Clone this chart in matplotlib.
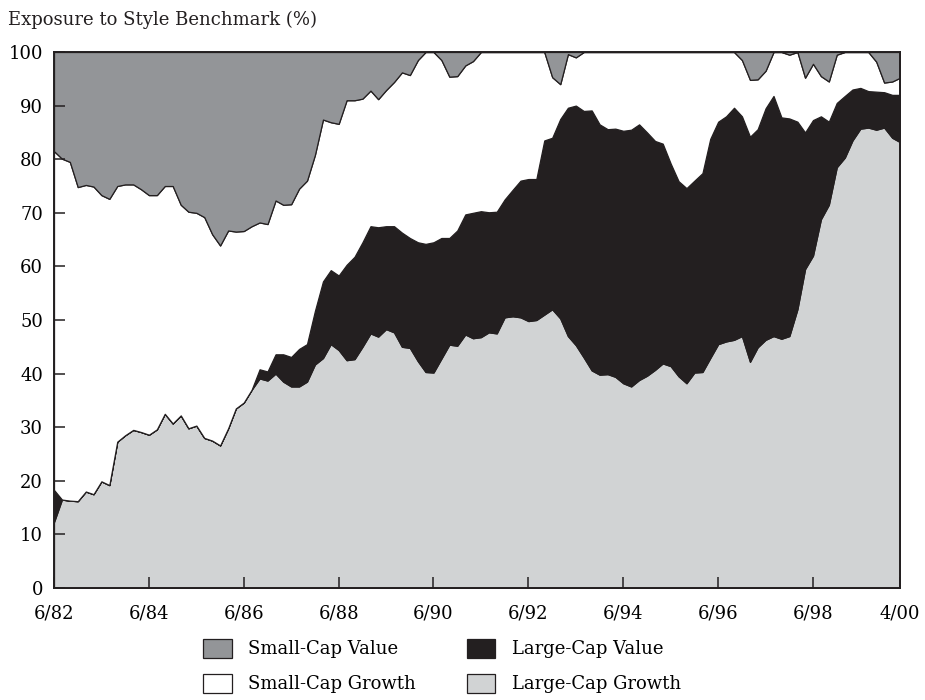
import numpy as np
import pandas as pd
import matplotlib
matplotlib.use("Agg")
import matplotlib.pyplot as plt
from matplotlib.patches import Patch

plt.rcParams['font.family'] = ['DejaVu Serif']

# Bi-monthly observations, 6/82 .. 4/00
dates = pd.date_range('1982-06-01', '2000-04-01', freq='2MS')

large_cap_growth = [
    12.3, 16.5, 16.3, 16.2, 18.0, 17.5, 19.9, 19.2, 27.3, 28.5,
    29.5, 29.1, 28.6, 29.6, 32.5, 30.7, 32.2, 29.8, 30.3, 28.0,
    27.5, 26.6, 29.8, 33.5, 34.6, 37.0, 39.1, 38.7, 40.0, 38.5,
    37.6, 37.6, 38.5, 41.7, 42.9, 45.5, 44.4, 42.5, 42.7, 45.0,
    47.5, 46.9, 48.3, 47.7, 45.0, 44.8, 42.3, 40.3, 40.2, 42.8,
    45.4, 45.2, 47.3, 46.6, 46.8, 47.7, 47.5, 50.5, 50.7, 50.5,
    49.8, 50.0, 51.0, 52.0, 50.3, 47.0, 45.3, 43.0, 40.6, 39.8,
    39.9, 39.4, 38.2, 37.6, 38.8, 39.6, 40.7, 41.9, 41.4, 39.5,
    38.2, 40.2, 40.3, 42.9, 45.5, 46.0, 46.3, 47.0, 42.2, 44.9,
    46.3, 47.0, 46.5, 47.0, 52.0, 59.5, 62.0, 68.8, 71.5, 78.5,
    80.3, 83.5, 85.7, 85.9, 85.5, 85.9, 84.0, 83.2]

large_cap_value = [
    6.0, 0, 0, 0, 0, 0, 0, 0, 0, 0,
    0, 0, 0, 0, 0, 0, 0, 0, 0, 0,
    0, 0, 0, 0, 0, 0, 1.7, 1.7, 3.6, 5.1,
    5.5, 7.0, 7.0, 10.0, 14.3, 13.8, 13.9, 17.8, 19.1, 19.5,
    20.0, 20.4, 19.2, 19.8, 21.3, 20.5, 22.2, 23.9, 24.3, 22.5,
    19.9, 21.5, 22.4, 23.4, 23.5, 22.4, 22.7, 22.0, 23.6, 25.5,
    26.5, 26.3, 32.5, 32.0, 37.2, 42.6, 44.7, 46.0, 48.5, 46.7,
    45.7, 46.3, 47.1, 47.9, 47.7, 45.4, 42.7, 41.0, 37.8, 36.4,
    36.4, 35.8, 37.1, 40.9, 41.5, 42.0, 43.3, 41.0, 42.0, 40.7,
    43.2, 44.8, 41.3, 40.6, 35.0, 25.5, 25.3, 19.2, 15.5, 12.0,
    11.5, 9.5, 7.6, 6.8, 7.1, 6.6, 8.0, 8.8]

small_cap_growth = [
    63.2, 63.6, 63.2, 58.6, 57.2, 57.4, 53.4, 53.4, 47.7, 46.8,
    45.8, 45.3, 44.7, 43.7, 42.5, 44.3, 39.3, 40.4, 39.7, 41.2,
    38.5, 37.3, 36.9, 33.0, 32.0, 30.5, 27.4, 27.5, 28.7, 27.9,
    28.5, 29.9, 30.5, 29.1, 30.2, 27.6, 28.3, 30.7, 29.2, 26.8,
    25.3, 23.9, 25.4, 26.9, 29.9, 30.4, 34.0, 35.8, 35.5, 33.2,
    30.1, 28.8, 27.8, 28.3, 29.7, 29.9, 29.8, 27.5, 25.7, 24.0,
    23.7, 23.7, 16.5, 11.3, 6.5, 10.0, 9.0, 11.0, 10.9, 13.5,
    14.4, 14.3, 14.7, 14.5, 13.5, 15.0, 16.6, 17.1, 20.8, 24.1,
    25.4, 24.0, 22.6, 16.2, 13.0, 12.0, 10.4, 10.5, 10.6, 9.3,
    7.0, 8.2, 12.2, 11.9, 13.0, 10.2, 10.5, 7.5, 7.5, 9.0,
    8.2, 7.0, 6.7, 7.3, 5.6, 1.8, 2.5, 3.2]

small_cap_value = [
    18.5, 19.9, 20.5, 25.2, 24.8, 25.1, 26.7, 27.4, 25.0, 24.7,
    24.7, 25.6, 26.7, 26.7, 25.0, 25.0, 28.5, 29.8, 30.0, 30.8,
    34.0, 36.1, 33.3, 33.5, 33.4, 32.5, 31.8, 32.1, 27.7, 28.5,
    28.4, 25.5, 24.0, 19.2, 12.6, 13.1, 13.4, 9.0, 9.0, 8.7,
    7.2, 8.8, 7.1, 5.6, 3.8, 4.3, 1.5, 0, 0, 1.5,
    4.6, 4.5, 2.5, 1.7, 0, 0, 0, 0, 0, 0,
    0, 0, 0, 4.7, 6.0, 0.4, 1.0, 0, 0, 0,
    0, 0, 0, 0, 0, 0, 0, 0, 0, 0,
    0, 0, 0, 0, 0, 0, 0, 1.5, 5.2, 5.1,
    3.5, 0, 0, 0.5, 0, 4.8, 2.2, 4.5, 5.5, 0.5,
    0, 0, 0, 0, 1.8, 5.7, 5.5, 4.8]

series_names = ['Large-Cap Growth', 'Large-Cap Value', 'Small-Cap Growth', 'Small-Cap Value']
series_colors = ['#d1d3d4', '#231f20', '#ffffff', '#939598']

tick_dates = pd.to_datetime(['1982-06-01', '1984-06-01', '1986-06-01', '1988-06-01',
                             '1990-06-01', '1992-06-01', '1994-06-01', '1996-06-01',
                             '1998-06-01', '2000-04-01'])
tick_labels = ['6/82', '6/84', '6/86', '6/88', '6/90', '6/92', '6/94', '6/96', '6/98', '4/00']

fig = plt.figure(figsize=(9.25, 7.0), dpi=100)
ax = fig.add_axes([54 / 925, 1 - 588 / 700, (900 - 54) / 925, (588 - 52) / 700])

ax.stackplot(dates, large_cap_growth, large_cap_value, small_cap_growth, small_cap_value,
             colors=series_colors, edgecolor='#231f20', linewidth=0.9)

ax.set_xlim(dates[0], dates[-1])
ax.set_ylim(0, 100)
ax.set_yticks(np.arange(0, 101, 10))
ax.set_xticks(tick_dates)
ax.set_xticklabels(tick_labels)
ax.tick_params(axis='both', direction='in', length=8, width=1.1, labelsize=13, color='#231f20')
ax.tick_params(axis='x', pad=12)
ax.tick_params(axis='y', pad=8)
for s in ax.spines.values():
    s.set_linewidth(1.4)
    s.set_color('#231f20')
    s.set_zorder(5)

fig.text(8 / 925, 1 - 20 / 700, 'Exposure to Style Benchmark (%)', fontsize=13,
         ha='left', va='center', color='#231f20')

handles = [Patch(facecolor=series_colors[3], edgecolor='#231f20', linewidth=0.9),
           Patch(facecolor=series_colors[2], edgecolor='#231f20', linewidth=0.9),
           Patch(facecolor=series_colors[1], edgecolor='#231f20', linewidth=0.9),
           Patch(facecolor=series_colors[0], edgecolor='#231f20', linewidth=0.9)]
labels = [series_names[3], series_names[2], series_names[1], series_names[0]]
fig.legend(handles, labels, ncol=2, loc='center', bbox_to_anchor=(442 / 925, 1 - 666 / 700),
           frameon=False, fontsize=13, handlelength=1.6, handleheight=1.25,
           handletextpad=0.9, columnspacing=2.8, labelspacing=0.85)

fig.savefig('out.png', dpi=100)
